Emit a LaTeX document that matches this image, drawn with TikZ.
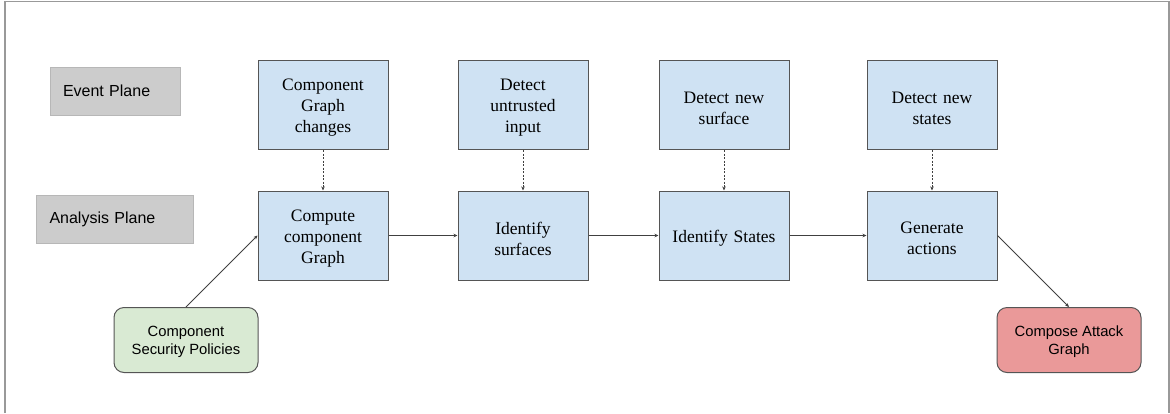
\documentclass[tikz,border=0pt]{standalone}
\usepackage{fontspec}
\setmainfont{Liberation Serif}
\setsansfont{Liberation Sans}
\usetikzlibrary{arrows.meta}
\definecolor{stepfill}{HTML}{CFE2F3}
\definecolor{stepline}{HTML}{555555}
\definecolor{planefill}{HTML}{CCCCCC}
\definecolor{planeline}{HTML}{B7B7B7}
\definecolor{policyfill}{HTML}{D9EAD3}
\definecolor{resultfill}{HTML}{EA9999}
\definecolor{frameline}{HTML}{999999}
\definecolor{wire}{HTML}{404040}
\tikzset{
  stepbox/.style={draw=stepline, line width=1pt, fill=stepfill, minimum width=130pt,
    minimum height=89pt},
  steptext/.style={align=center, text width=118pt, inner sep=0pt, yshift=-3pt,
    font=\fontsize{17.5}{21}\selectfont},
  planebox/.style={draw=planeline, line width=1pt, fill=planefill, minimum height=48pt,
    inner xsep=13pt, align=left, font=\sffamily\fontsize{16}{19}\selectfont},
  endbox/.style={draw=stepline, line width=1pt, rounded corners=10pt, minimum width=144pt,
    minimum height=65pt},
  endtext/.style={align=center, inner sep=0pt, yshift=-2pt,
    font=\sffamily\fontsize{14.8}{18}\selectfont},
  flow/.style={draw=wire, line width=0.8pt, -{Stealth[length=4pt,width=3.5pt]}},
  trigger/.style={draw=wire, line width=0.8pt, dash pattern=on 2pt off 1.5pt,
    -{Stealth[length=4pt,width=3.5pt]}}
}
\begin{document}
\begin{tikzpicture}[x=1pt,y=-1pt]
\useasboundingbox (0,0) rectangle (1170,413);
% open frame round the diagram
\draw[frameline, line width=1.5pt] (5,413) -- (5,1.5) -- (1169,1.5) -- (1169,413);

% plane labels
\node[planebox, text width=104pt] (event) at (115,91) {Event Plane};
\node[planebox, text width=131pt] (analysis) at (115,219) {Analysis Plane};

% event plane
\node[stepbox, label={[steptext]center:{Component\\Graph\\changes}}] (e1) at (323,105) {};
\node[stepbox, label={[steptext]center:{Detect\\untrusted\\input}}] (e2) at (523,105) {};
\node[stepbox, label={[steptext]center:{Detect new\\surface}}] (e3) at (724,105) {};
\node[stepbox, label={[steptext]center:{Detect new\\states}}] (e4) at (932,105) {};

% analysis plane
\node[stepbox, label={[steptext]center:{Compute\\component\\Graph}}] (a1) at (323,235.5) {};
\node[stepbox, label={[steptext]center:{Identify\\surfaces}}] (a2) at (523,235.5) {};
\node[stepbox, label={[steptext]center:{Identify States}}] (a3) at (724,235.5) {};
\node[stepbox, label={[steptext]center:{Generate\\actions}}] (a4) at (932,235.5) {};

% inputs and output
\node[endbox, fill=policyfill, label={[endtext]center:{Component\\Security Policies}}] (policies) at (186,340) {};
\node[endbox, fill=resultfill, label={[endtext]center:{Compose Attack\\Graph}}] (attack) at (1069,340) {};

% event triggers
\foreach \i in {1,...,4} \draw[trigger] (e\i.south) -- (a\i.north);

% analysis flow
\draw[flow] (a1.east) -- (a2.west);
\draw[flow] (a2.east) -- (a3.west);
\draw[flow] (a3.east) -- (a4.west);
\draw[flow] (policies.north) -- (a1.west);
\draw[flow] (a4.east) -- (attack.north);
\end{tikzpicture}
\end{document}
